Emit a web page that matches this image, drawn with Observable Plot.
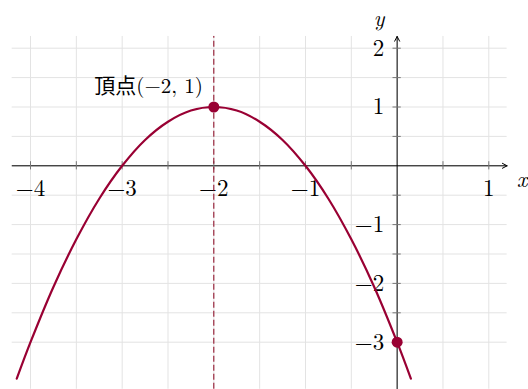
<!DOCTYPE html>
<html>
<head>
<meta charset="utf-8">
<script src="https://cdn.jsdelivr.net/npm/d3@7"></script>
<script src="https://cdn.jsdelivr.net/npm/@observablehq/plot@0.6"></script>
<style>
  html, body { margin: 0; padding: 0; background: #fff; }
</style>
</head>
<body>
<div id="chart"></div>
<script>
// Curve points
const curveX = [-4.15, -4, -3.75, -3.5, -3.25, -3, -2.75, -2.5, -2.25, -2, -1.75, -1.5, -1.25, -1, -0.75, -0.5, -0.25, 0, 0.15];
const curveY = [-3.62, -3, -2.06, -1.25, -0.56, 0, 0.44, 0.75, 0.94, 1, 0.94, 0.75, 0.44, 0, -0.56, -1.25, -2.06, -3, -3.62];

// Marked points
const pointX = [-2, 0];
const pointY = [1, -3];

// Axis labels and grid
const xTickLabels = [-4, -3, -2, -1, 1];
const yTickLabels = [-3, -2, -1, 1, 2];
const xGrid = [-4, -3.5, -3, -2.5, -2, -1.5, -1, -0.5, 0, 0.5, 1];
const yGrid = [-3, -2.5, -2, -1.5, -1, -0.5, 0, 0.5, 1, 1.5, 2];
const xExtent = [-4.2, 1.2];
const yExtent = [-3.8, 2.2];
const vertexLabel = "頂点(−2, 1)";

const curve = curveX.map((x, i) => ({x, y: curveY[i]}));
const points = pointX.map((x, i) => ({x, y: pointY[i]}));
const fmt = v => (v < 0 ? "\u2212" + Math.abs(v) : String(v));

const serif = "'Latin Modern Roman', 'Liberation Serif', 'Noto Sans CJK JP', serif";
const red = "#990033";

const chart = Plot.plot({
  width: 528,
  height: 389,
  margin: 0,
  style: {background: "#fff", fontFamily: serif, overflow: "visible"},
  x: {domain: [-4, 1], range: [30, 488.3], axis: null},
  y: {domain: [-3, 2], range: [341.7, 47.7], axis: null},
  marks: [
    // grid
    Plot.ruleX(xGrid, {x: d => d, y1: yExtent[0], y2: yExtent[1], stroke: "#e3e3e3", strokeWidth: 1}),
    Plot.ruleY(yGrid, {y: d => d, x1: xExtent[0], x2: xExtent[1], stroke: "#e3e3e3", strokeWidth: 1}),
    // axes with arrows
    Plot.arrow([0], {x1: xExtent[0], y1: 0, x2: xExtent[1], y2: 0, stroke: "#000", strokeWidth: 1, headLength: 8, headAngle: 55}),
    Plot.arrow([0], {x1: 0, y1: yExtent[0], x2: 0, y2: yExtent[1], stroke: "#000", strokeWidth: 1, headLength: 8, headAngle: 55}),
    // tick marks
    Plot.ruleX(xGrid.filter(d => d !== 0), {x: d => d, y1: -0.07, y2: 0.07, stroke: "#777", strokeWidth: 1}),
    Plot.ruleY(yGrid.filter(d => d !== 0), {y: d => d, x1: -0.045, x2: 0.045, stroke: "#777", strokeWidth: 1}),
    // tick labels
    Plot.text(xTickLabels, {x: d => d, y: 0, text: fmt, dy: 23, fontSize: 23, fill: "#000", textAnchor: "middle", lineAnchor: "middle"}),
    Plot.text(yTickLabels, {x: 0, y: d => d, text: fmt, dx: -13, fontSize: 23, fill: "#000", textAnchor: "end", lineAnchor: "middle"}),
    // axis names
    Plot.text(["x"], {x: xExtent[1], y: 0, text: d => d, dx: 15, dy: 14, fontSize: 23, fontStyle: "italic", fill: "#000"}),
    Plot.text(["y"], {x: 0, y: yExtent[1], text: d => d, dx: -18, dy: -17, fontSize: 22, fontStyle: "italic", fill: "#000"}),
    // axis of symmetry
    Plot.ruleX([pointX[0]], {x: d => d, y1: yExtent[0], y2: yExtent[1], stroke: "#8a001c", strokeWidth: 1, strokeDasharray: "6,3"}),
    // parabola
    Plot.line(curve, {x: "x", y: "y", curve: "catmull-rom", stroke: red, strokeWidth: 2.2}),
    // points
    Plot.dot(points, {x: "x", y: "y", r: 5.5, fill: red, stroke: "none"}),
    // vertex label
    Plot.text([points[0]], {x: "x", y: "y", text: () => vertexLabel, dx: -11, dy: -21, textAnchor: "end", fontSize: 21, fill: "#000"})
  ]
});
document.getElementById("chart").appendChild(chart);
</script>
</body>
</html>
